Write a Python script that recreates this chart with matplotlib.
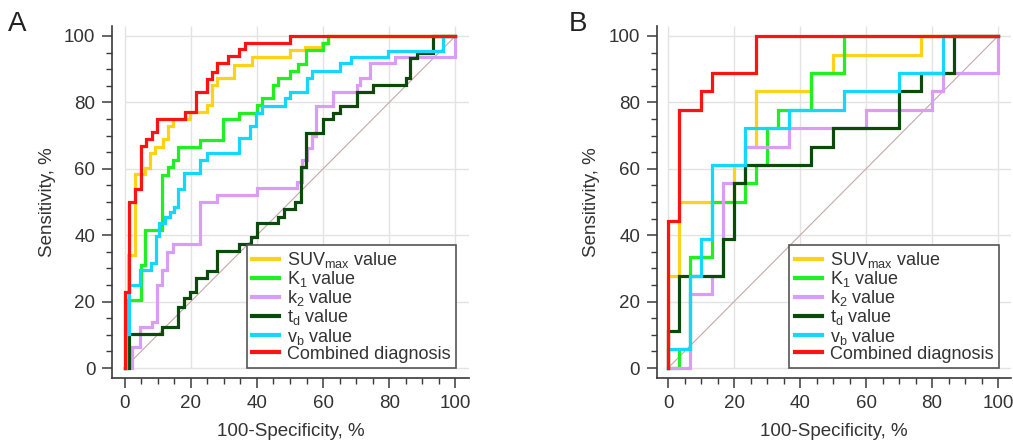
import matplotlib
matplotlib.use("Agg")
import matplotlib.pyplot as plt
from matplotlib.ticker import MultipleLocator

plt.rcParams['font.family'] = ['Liberation Sans', 'DejaVu Sans']
plt.rcParams['mathtext.fontset'] = 'custom'
plt.rcParams['mathtext.rm'] = 'Liberation Sans'
plt.rcParams['mathtext.it'] = 'Liberation Sans:italic'

# ---------------- data (step-post points: x where curve rises, y = level reached) -------------
labels = ["SUV$_{\\mathrm{max}}$ value", "K$_{\\mathrm{1}}$ value", "k$_{\\mathrm{2}}$ value",
          "t$_{\\mathrm{d}}$ value", "v$_{\\mathrm{b}}$ value", "Combined diagnosis"]
colors = ["#FFD21A", "#1FF01F", "#D99CF7", "#0B4A0B", "#12D8FF", "#FF1212"]

# Panel A
a_suv_x = [0, 1.0, 3.2, 6.2, 7.7, 9.2, 11.7, 13.2, 14.8, 19.8, 24.8, 26.3, 27.9, 33.1, 38.4, 50, 54.5, 59.6, 61.5, 100]
a_suv_y = [0, 34, 58.4, 60.1, 64.7, 66.7, 68.9, 72.9, 75, 77, 79.2, 85.2, 87.2, 91.3, 93.8, 95.8, 96.8, 97.9, 100, 100]
a_k1_x = [0, 0.5, 5, 6.2, 11.2, 13.2, 14.8, 16.3, 22.8, 29.9, 34.7, 39.9, 41.5, 45, 46.5, 50, 52.5, 54.8, 59.9, 61.5, 100]
a_k1_y = [0, 20.5, 31, 41.6, 58.1, 60.6, 62.7, 66.7, 68.7, 74.9, 76.9, 79.2, 81.2, 85.2, 87.2, 89.3, 91.5, 95.8, 97.9, 100, 100]
a_k2_x = [0, 2.2, 4.7, 8.2, 9.7, 11.2, 12.9, 14.7, 22.8, 28, 40, 52, 53.5, 55, 56.5, 58, 63.1, 70.1, 71.1, 74.2, 81.7, 100]
a_k2_y = [0, 6.4, 12.4, 13.9, 25, 29.5, 35, 37.5, 50.1, 52.1, 54.1, 56.1, 62.7, 66.2, 70, 78.9, 83.2, 85.2, 87.2, 91.8, 93.6, 100]
a_td_x = [0, 1.4, 11.4, 16.3, 18, 19.8, 21.6, 24.8, 28, 34.7, 38.1, 39.9, 46.5, 48.2, 51.5, 53.2, 54.8, 59.9, 63.1, 65.1, 70.2, 75.2, 85, 86.3, 88.3, 93.3, 100]
a_td_y = [0, 10.4, 12.4, 18.5, 21, 23, 27, 29.3, 35.3, 37.3, 39.4, 43.6, 45.6, 47.9, 50.1, 60.6, 70.7, 74.9, 76.9, 78.9, 83.2, 85.2, 87.2, 93.3, 95, 100, 100]
a_vb_x = [0, 0.5, 1.4, 4.7, 7.9, 9.5, 10.5, 12.2, 13.7, 15.1, 16.3, 18.0, 22.8, 24.8, 34.7, 37.9, 39.7, 41.4, 48.5, 50, 55, 56.5, 65.1, 68.3, 79.7, 96.3, 100]
a_vb_y = [0, 10.4, 25, 29.5, 31.5, 39.8, 43.6, 45.6, 47, 48.5, 54, 58.6, 62.7, 64.7, 69.2, 72.9, 76.7, 78.9, 81.2, 83.2, 87.2, 89.3, 91.8, 93.8, 95.6, 100, 100]
a_comb_x = [0, 0, 1.4, 3.2, 4.9, 6.4, 8.2, 9.7, 18.3, 21.6, 24.8, 26.3, 28, 31.4, 34.7, 36.4, 50, 100]
a_comb_y = [0, 23, 50, 54, 67, 69, 71, 75, 77, 83, 87, 89, 92, 94, 96, 98, 100, 100]

# Panel B
b_suv_x = [0, 0, 3.3, 20, 23.3, 26.7, 43.3, 50, 76.7, 100]
b_suv_y = [0, 27.8, 50, 61.1, 66.7, 83.3, 88.9, 94.4, 100, 100]
b_k1_x = [0, 3.3, 6.7, 13.3, 23.3, 26.7, 30, 33.3, 43.3, 53.3, 100]
b_k1_y = [0, 5.6, 33.3, 50, 55.6, 61.1, 72.2, 77.8, 88.9, 100, 100]
b_k2_x = [0, 6.7, 13.3, 16.7, 23.3, 36.7, 60, 80, 83.3, 100]
b_k2_y = [0, 22.2, 27.8, 55.6, 66.7, 72.2, 77.8, 83.3, 88.9, 100]
b_td_x = [0, 0, 3.3, 16.7, 20, 23.3, 43.3, 50, 70, 76.7, 86.7, 100]
b_td_y = [0, 11.1, 27.8, 38.9, 55.6, 61.1, 66.7, 72.2, 83.3, 88.9, 100, 100]
b_vb_x = [0, 0, 6.7, 10, 13.3, 23.3, 36.7, 53.3, 70, 83.3, 100]
b_vb_y = [0, 5.6, 27.8, 38.9, 61.1, 72.2, 77.8, 83.3, 88.9, 100, 100]
b_comb_x = [0, 0, 3.3, 10, 13.3, 26.7, 100]
b_comb_y = [0, 44.4, 77.8, 83.3, 88.9, 100, 100]

panel_a = [(a_suv_x, a_suv_y), (a_k1_x, a_k1_y), (a_k2_x, a_k2_y),
           (a_td_x, a_td_y), (a_vb_x, a_vb_y), (a_comb_x, a_comb_y)]
panel_b = [(b_suv_x, b_suv_y), (b_k1_x, b_k1_y), (b_k2_x, b_k2_y),
           (b_td_x, b_td_y), (b_vb_x, b_vb_y), (b_comb_x, b_comb_y)]

ticks = [0, 20, 40, 60, 80, 100]
xlabel = "100-Specificity, %"
ylabel = "Sensitivity, %"

# ---------------- figure ----------------
fig = plt.figure(figsize=(10.13, 4.4), dpi=100)
axA = fig.add_axes([0.1105, 0.1409, 0.3522, 0.800])
axB = fig.add_axes([0.6484, 0.1409, 0.3499, 0.800])

txt = "#333333"
spc = "#3a3a3a"

def draw(ax, series, xlo):
    ax.set_xlim(xlo, 104)
    ax.set_ylim(-3, 103)
    # grid within the data region
    ax.hlines(ticks, 0, 104, color="#e3e3e3", lw=1.0, zorder=0)
    ax.vlines(ticks, 0, 103, color="#e3e3e3", lw=1.0, zorder=0)
    ax.plot([0, 100], [0, 100], color="#c4a9a9", lw=0.8, zorder=1)
    for (x, y), c, lab in zip(series, colors, labels):
        ax.step(x, y, where="post", color=c, lw=2.3, label=lab, zorder=2,
                solid_joinstyle="miter")
    for s in ["top", "right"]:
        ax.spines[s].set_visible(False)
    for s in ["left", "bottom"]:
        ax.spines[s].set_color(spc)
        ax.spines[s].set_linewidth(1.2)
    ax.set_xticks(ticks)
    ax.set_yticks(ticks)
    ax.xaxis.set_minor_locator(MultipleLocator(5))
    ax.yaxis.set_minor_locator(MultipleLocator(5))
    ax.tick_params(which="major", length=7, width=1.1, color=spc, labelsize=13.5,
                   labelcolor=txt, pad=5)
    ax.tick_params(which="minor", length=4, width=1.0, color=spc)
    ax.set_xlabel(xlabel, fontsize=13.5, color=txt, labelpad=8)
    ax.set_ylabel(ylabel, fontsize=13.5, color=txt, labelpad=6)
    leg = ax.legend(loc="lower right", bbox_to_anchor=(100.3, 0), bbox_transform=ax.transData,
                    borderaxespad=0, fontsize=13, frameon=True, fancybox=False,
                    handlelength=1.5, handletextpad=0.45, labelspacing=-0.05,
                    borderpad=0.3, framealpha=1)
    leg.get_frame().set_edgecolor("#555555")
    leg.get_frame().set_linewidth(1.2)
    for t in leg.get_texts():
        t.set_color(txt)
    for l in leg.get_lines():
        l.set_linewidth(3)

draw(axA, panel_a, -3.8)
draw(axB, panel_b, -3.4)

fig.text(0.008, 0.975, "A", fontsize=20, color="#222222", va="top", ha="left")
fig.text(0.561, 0.975, "B", fontsize=20, color="#222222", va="top", ha="left")

fig.savefig("out.png", dpi=100)
